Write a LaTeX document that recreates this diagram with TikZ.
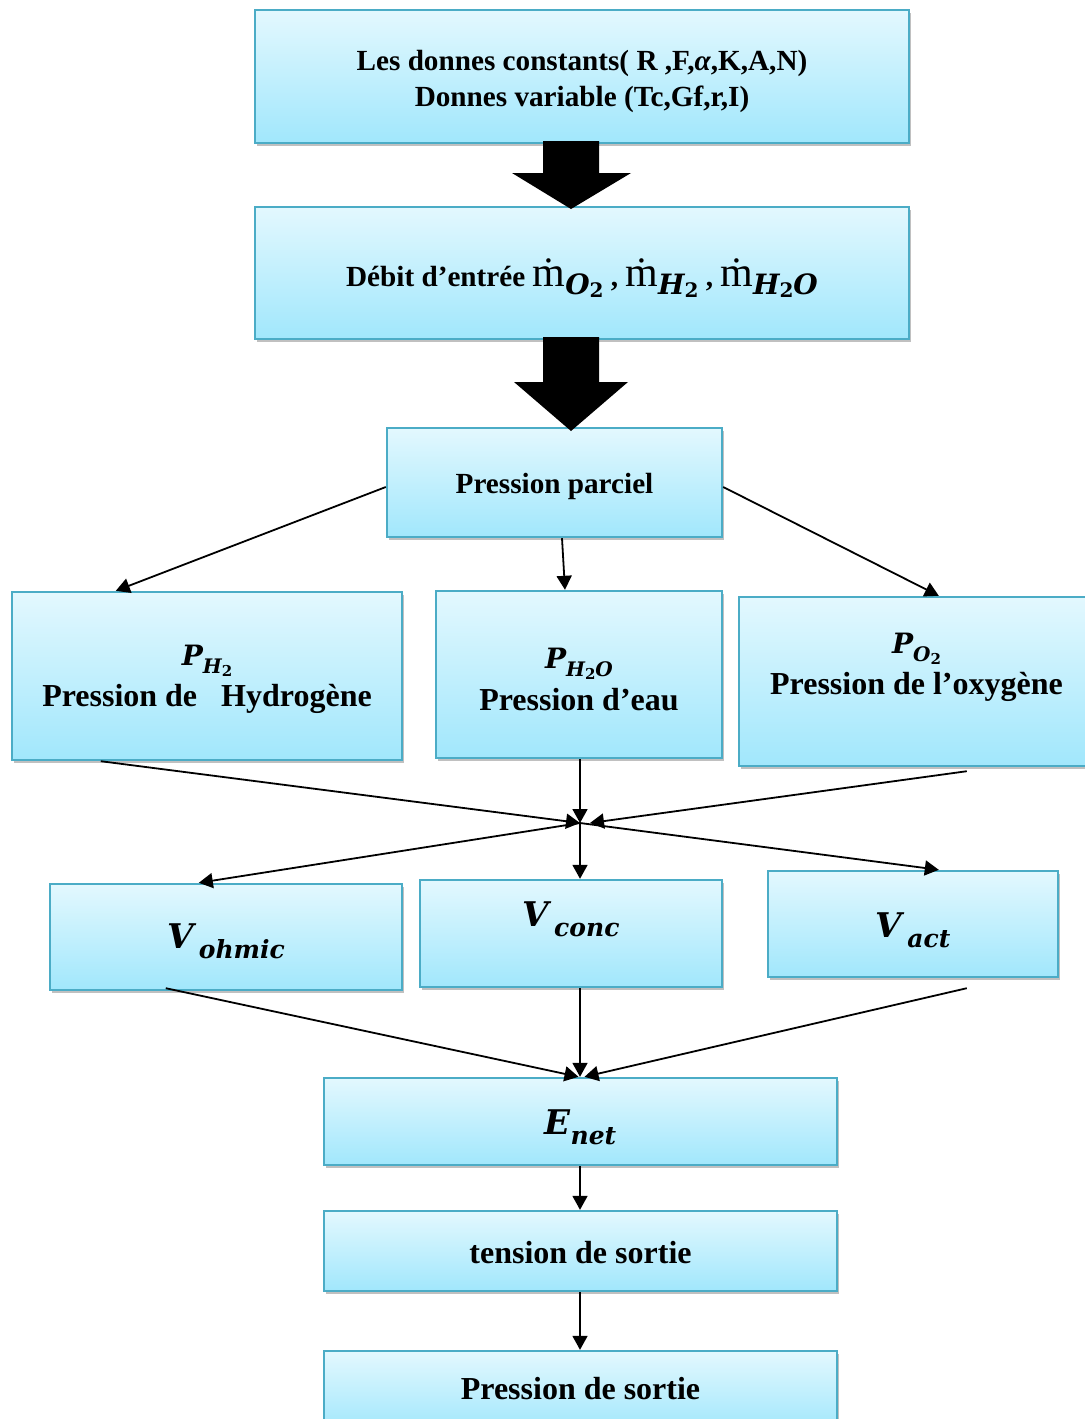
\documentclass[tikz,border=0pt]{standalone}
\usepackage{fontspec}
\setmainfont{Liberation Serif}
\newfontfamily\symfont{DejaVu Serif}
\usetikzlibrary{arrows.meta,shadows,calc}

\definecolor{boxtop}{HTML}{E3F8FE}
\definecolor{boxbot}{HTML}{A1E7FC}
\definecolor{boxedge}{HTML}{4BACC6}

% bold italic symbol and its lowered subscript
\newcommand{\msym}[2]{{\symfont\bfseries\itshape\fontsize{#1}{#1}\selectfont #2}}
\newcommand{\msub}[3]{\raisebox{#2}{\symfont\bfseries\itshape\fontsize{#1}{#1}\selectfont #3}}
\newcommand{\mdot}{{\fontsize{21}{21}\selectfont\mdseries\.{m}}}
% move the ink of a label up or down without changing its measured size
\newcommand{\vmove}[2]{\raisebox{#1}[\height][\depth]{#2}}

\tikzset{
  box/.style={draw=boxedge, line width=1.2pt, top color=boxtop, bottom color=boxbot,
    align=center, inner sep=0pt, font=\bfseries\fontsize{16}{19}\selectfont,
    drop shadow={shadow xshift=1pt, shadow yshift=-1.5pt, opacity=0.35, fill=black!70}},
  smallbox/.style={box, font=\bfseries\fontsize{14.6}{18}\selectfont},
  link/.style={line width=0.9pt, -{Triangle[length=7pt,width=7.5pt]}},
  blockarrow/.style={fill=black}
}

\begin{document}
\begin{tikzpicture}[x=0.5pt, y=-0.5pt]
\fill[white] (0,0) rectangle (1084,1419);
\useasboundingbox (0,0) rectangle (1084,1419);

% inputs and flow rates
\node[smallbox, minimum width=327pt, minimum height=66.5pt] (data) at (582,76.5)
  {\vmove{-2.5pt}{\begin{tabular}{@{}c@{}}Les donnes constants( R ,F,{\itshape α},K,A,N)\\ Donnes variable (Tc,Gf,r,I)\end{tabular}}};
\node[smallbox, minimum width=327pt, minimum height=66pt] (flow) at (582,273)
  {\vmove{-2.5pt}{D\'ebit d’entr\'ee \mdot\msub{14}{-4pt}{O\msub{10}{-1.5pt}{\upshape 2}} , \mdot\msub{14}{-4pt}{H\msub{10}{-1.5pt}{\upshape 2}} , \mdot\msub{14}{-4pt}{H\msub{10}{-1.5pt}{\upshape 2}O}}};
\node[smallbox, minimum width=167.5pt, minimum height=54.5pt] (part) at (554.5,482.5)
  {\vmove{-2pt}{Pression parciel}};

% partial pressures
\node[box, minimum width=195pt, minimum height=84pt] (ph2) at (207,676)
  {\vmove{-1.5pt}{\shortstack{\msym{14}{P}\msub{10}{-4pt}{H\msub{7.5}{-1.5pt}{\upshape 2}}\\[1pt] Pression de\hspace{8pt} Hydrog\`ene}}};
\node[box, minimum width=143pt, minimum height=83.5pt] (ph2o) at (579,674.5)
  {\vmove{-2.5pt}{\shortstack{\msym{14}{P}\msub{10}{-4pt}{H\msub{7.5}{-1.5pt}{\upshape 2}O}\\[1pt] Pression d’eau}}};
\node[box, minimum width=177.5pt, minimum height=84.5pt] (po2) at (916.5,681.5)
  {\vmove{7pt}{\shortstack{\msym{14}{P}\msub{10}{-4pt}{O\msub{7.5}{-1.5pt}{\upshape 2}}\\[1pt] Pression de l’oxyg\`ene}}};

% voltage losses
\node[box, minimum width=176pt, minimum height=53pt] (vohm) at (226,937)
  {\vmove{-2pt}{\msym{17}{V}\,\msub{12.5}{-5pt}{ohmic}}};
\node[box, minimum width=151pt, minimum height=53.5pt] (vconc) at (571,933.5)
  {\vmove{7pt}{\msym{17}{V}\,\msub{12.5}{-5pt}{conc}}};
\node[box, minimum width=145pt, minimum height=53pt] (vact) at (913,924)
  {\vmove{-3pt}{\msym{17}{V}\,\msub{12.5}{-5pt}{act}}};

% outputs
\node[box, minimum width=256.5pt, minimum height=43.5pt] (enet) at (580.5,1121.5)
  {\vmove{-3pt}{\msym{17}{E}\msub{12.5}{-5pt}{net}}};
\node[box, minimum width=256.5pt, minimum height=40pt] (vout) at (580.5,1251)
  {\vmove{-1pt}{tension de sortie}};
\node[box, minimum width=256.5pt, minimum height=40pt] (pout) at (580.5,1391)
  {\vmove{1pt}{Pression de sortie}};

% block arrows between the first three stages
\fill[blockarrow] (543,141) -- (599,141) -- (599,173) -- (631,173) -- (571,209)
  -- (512,173) -- (543,173) -- cycle;
\fill[blockarrow] (543,337) -- (599,337) -- (599,382) -- (628,382) -- (571,431)
  -- (514,382) -- (543,382) -- cycle;

% partial pressure split
\draw[link] ([yshift=-2.25pt]part.west) -- ([xshift=52.5pt]ph2.north west);
\draw[link] ([xshift=3.75pt]part.south) -- ([xshift=-7pt]ph2o.north);
\draw[link] ([yshift=-2.25pt]part.east) -- ([xshift=100.5pt]po2.north west);

% merging point
\coordinate (hub) at (580,823);
\draw[link] ([xshift=45pt]ph2.south west) -- (hub);
\draw[link] (ph2o.south -| hub) -- (hub);
\draw[link] ([xshift=114.5pt,yshift=-2pt]po2.south west) -- ([xshift=5pt]hub);
\draw[link] (hub) -- ([xshift=75pt]vohm.north west);
\draw[link] (hub) -- (hub |- vconc.north);
\draw[link] (hub) -- ([xshift=86pt]vact.north west);

% losses into net voltage
\draw[link] ([xshift=58.5pt,yshift=1.5pt]vohm.south west) -- ([xshift=-1pt]enet.north);
\draw[link] (vconc.south -| hub) -- (enet.north -| hub);
\draw[link] ([xshift=100pt,yshift=-5pt]vact.south west) -- ([xshift=2pt]enet.north);
\draw[link] (enet.south -| hub) -- (vout.north -| hub);
\draw[link] (vout.south -| hub) -- (pout.north -| hub);
\end{tikzpicture}
\end{document}
